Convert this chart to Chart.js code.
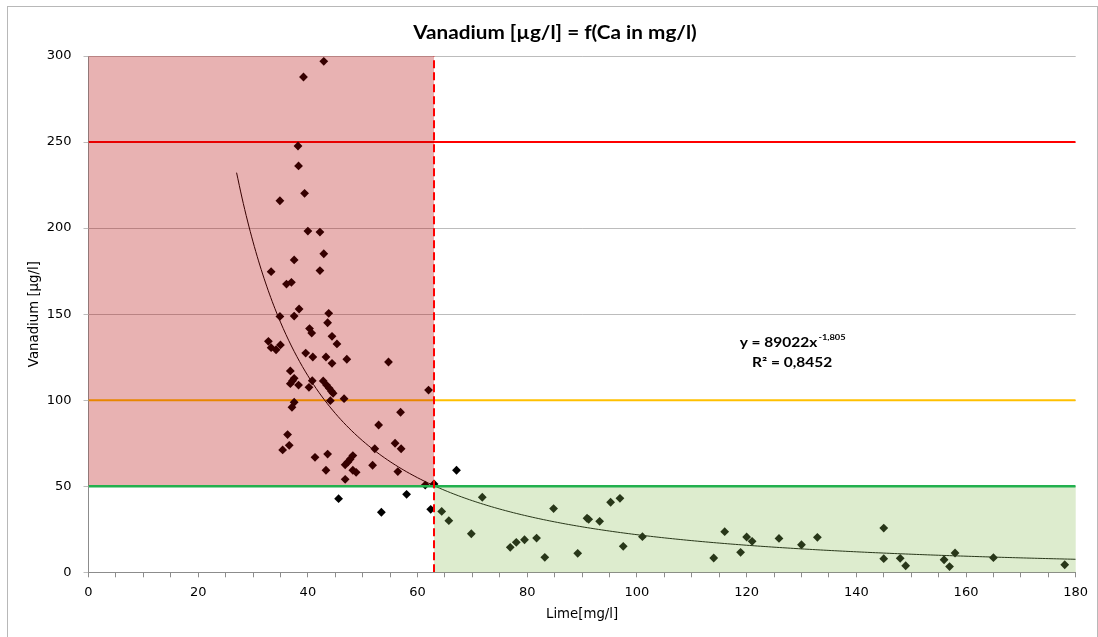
<!DOCTYPE html>
<html>
<head>
<meta charset="utf-8">
<script src="https://cdn.jsdelivr.net/npm/chart.js@4.4.1/dist/chart.umd.min.js"></script>
<style>
html,body{margin:0;padding:0;background:#fff;}
#wrap{position:relative;width:1098px;height:637px;}
canvas{display:block;}
</style>
</head>
<body>
<div id="wrap"><canvas id="c" width="1098" height="637"></canvas></div>
<script>
// ---- data ----
const chartTitle = 'Vanadium [µg/l] = f(Ca in mg/l)';
const xTitle = 'Lime[mg/l]';
const yTitle = 'Vanadium [µg/l]';

const limeX = [42.9,39.2,38.2,38.3,39.4,34.9,40.0,42.2,42.9,37.5,33.3,42.2,36.1,37.0,38.4,34.9,37.5,43.8,43.6,40.3,
  40.7,44.4,45.3,32.8,33.3,34.2,35.0,39.6,40.9,43.3,44.4,47.1,54.7,36.8,37.5,37.2,36.8,38.3,40.2,40.8,
  42.8,43.4,43.9,44.3,44.6,62.0,46.6,44.1,37.5,37.1,56.9,52.9,36.3,36.6,35.4,41.3,43.6,48.2,47.7,47.3,
  46.8,55.9,57.0,52.2,51.8,43.3,48.2,48.8,56.4,46.8,61.4,63.0,45.6,58.0,53.4,62.4,67.1,
  64.4,65.7,69.8,71.8,76.9,78.0,79.5,81.7,83.2,84.8,89.2,90.9,91.2,93.2,95.2,96.9,97.5,101.0,
  114.0,116.0,118.9,120.0,121.0,125.9,130.0,132.9,145.0,145.0,148.0,149.0,156.0,157.0,158.0,165.0,178.0];
const vanadiumY = [296.9,287.8,247.7,236.1,220.2,215.9,198.3,197.7,185.1,181.5,174.7,175.3,167.5,168.5,153.0,148.7,148.9,150.5,145.0,141.6,
  139.0,137.1,132.7,134.2,130.5,129.3,132.1,127.4,125.1,125.1,121.4,123.8,122.2,117.0,112.7,111.3,109.6,108.8,107.5,111.3,
  111.2,108.8,106.9,105.2,104.0,105.9,100.9,99.7,98.8,95.9,93.0,85.6,80.0,73.8,71.1,66.8,68.7,67.8,65.7,64.1,
  62.5,75.0,71.8,71.8,62.2,59.3,59.3,58.1,58.5,54.0,50.7,51.3,42.8,45.3,34.9,36.6,59.3,
  35.4,30.0,22.4,43.6,14.5,17.4,18.9,19.9,8.7,37.0,11.0,31.4,30.8,29.6,40.7,43.0,15.1,20.7,
  8.3,23.6,11.6,20.5,18.0,19.7,16.0,20.3,25.7,7.9,8.1,3.8,7.3,3.3,11.2,8.5,4.4];

// trendline (power fit shown on chart): y = 89022 * x^-1.805
const trendA = 89022;
const trendB = -1.805;
const trendStart = 27;
const trendEnd = 180;
const trendText1 = 'y = 89022x';
const trendExp = '-1,805';
const trendText2 = 'R² = 0,8452';

// limits
const limitHigh = 250;   // red
const limitMid = 100;    // orange
const limitLow = 50;     // green
const limeLimit = 63;    // dashed vertical
const xMin = 0, xMax = 180, yMin = 0, yMax = 300;

// ---- derived datasets ----
const scatterPts = limeX.map((x, i) => ({x: x, y: vanadiumY[i]}));
const trendPts = [];
for (let x = trendStart; x <= trendEnd; x += 1) trendPts.push({x: x, y: trendA * Math.pow(x, trendB)});

const hline = v => [{x: xMin, y: v}, {x: xMax, y: v}];

function stretchedText(ctx, text, x, y, sx, align) {
  ctx.save();
  const w = ctx.measureText(text).width * sx;
  let left = x;
  if (align === 'center') left = x - w / 2;
  ctx.translate(left, y);
  ctx.scale(sx, 1);
  ctx.textAlign = 'left';
  ctx.fillText(text, 0, 0);
  ctx.restore();
  return w;
}

const overlayPlugin = {
  id: 'overlay',
  beforeDraw(chart) {
    const ctx = chart.ctx;
    ctx.save();
    ctx.fillStyle = '#fff';
    ctx.fillRect(0, 0, chart.width, chart.height);
    ctx.strokeStyle = '#b8b8b8';
    ctx.lineWidth = 1;
    ctx.strokeRect(7.5, 6.5, 1090, 700);
    ctx.restore();
  },
  beforeDatasetsDraw(chart) {
    const ctx = chart.ctx, ys = chart.scales.y, xs = chart.scales.x;
    const left = xs.getPixelForValue(xMin), right = xs.getPixelForValue(xMax);
    ctx.save();
    ctx.strokeStyle = '#bcbcbc';
    ctx.lineWidth = 1;
    ys.ticks.forEach(t => {
      if (t.value === yMin) return;
      const py = Math.round(ys.getPixelForValue(t.value)) + 0.5;
      ctx.beginPath();
      ctx.moveTo(left, py);
      ctx.lineTo(right, py);
      ctx.stroke();
    });
    ctx.restore();
  },
  afterDatasetDraw(chart, args) {
    if (chart.data.datasets[args.index].label !== 'trend') return;
    const xs = chart.scales.x, ys = chart.scales.y, ctx = chart.ctx;
    ctx.save();
    let x0 = xs.getPixelForValue(xMin), x1 = xs.getPixelForValue(limeLimit);
    let y0 = ys.getPixelForValue(yMax), y1 = ys.getPixelForValue(limitLow);
    ctx.fillStyle = 'rgba(180,0,0,0.30)';
    ctx.fillRect(x0, y0, x1 - x0, y1 - y0);
    x0 = xs.getPixelForValue(limeLimit); x1 = xs.getPixelForValue(xMax);
    y0 = ys.getPixelForValue(limitLow); y1 = ys.getPixelForValue(yMin);
    ctx.fillStyle = 'rgba(138,190,86,0.29)';
    ctx.fillRect(x0, y0, x1 - x0, y1 - y0);
    ctx.restore();
  },
  afterDraw(chart) {
    const ctx = chart.ctx, xs = chart.scales.x, ys = chart.scales.y;
    ctx.save();
    ctx.fillStyle = '#000';
    ctx.textBaseline = 'middle';
    ctx.font = 'bold 18px Lato';
    stretchedText(ctx, chartTitle, 555, 33, 1.15, 'center');
    // equation
    const sx = 1.24;
    const cx = xs.getPixelForValue(128.3);
    const yA = ys.getPixelForValue(133.3), yB = ys.getPixelForValue(121.7);
    ctx.font = 'bold 12.5px Lato';
    const w1 = ctx.measureText(trendText1).width * sx;
    ctx.font = 'bold 7.5px Lato';
    const w2 = ctx.measureText(trendExp).width * sx;
    const start = cx - (w1 + w2) / 2;
    ctx.font = 'bold 12.5px Lato';
    stretchedText(ctx, trendText1, start, yA, sx, 'left');
    ctx.font = 'bold 7.5px Lato';
    stretchedText(ctx, trendExp, start + w1 + 1, yA - 5, sx, 'left');
    ctx.font = 'bold 12.5px Lato';
    stretchedText(ctx, trendText2, cx, yB, sx, 'center');
    ctx.restore();
  }
};

new Chart(document.getElementById('c'), {
  type: 'scatter',
  data: {
    datasets: [
      {label: 'red', type: 'line', data: hline(limitHigh), borderColor: '#ff0000', borderWidth: 2, pointRadius: 0, order: 6},
      {label: 'orange', type: 'line', data: hline(limitMid), borderColor: '#ffc000', borderWidth: 2, pointRadius: 0, order: 5},
      {label: 'Vanadium', data: scatterPts, pointStyle: 'rectRot', pointRadius: 4.4, backgroundColor: '#000', borderColor: '#000', borderWidth: 0, order: 4},
      {label: 'trend', type: 'line', data: trendPts, borderColor: '#000', borderWidth: 1, pointRadius: 0, tension: 0.3, order: 3},
      {label: 'green', type: 'line', data: hline(limitLow), borderColor: '#22b04e', borderWidth: 2.5, pointRadius: 0, order: 2},
      {label: 'limit', type: 'line', data: [{x: limeLimit, y: yMin}, {x: limeLimit, y: yMax}], borderColor: '#ff0000', borderWidth: 2, borderDash: [8, 4], pointRadius: 0, order: 1}
    ]
  },
  options: {
    responsive: false,
    animation: false,
    devicePixelRatio: 1,
    layout: {padding: {left: 0, right: 22.3, top: 56, bottom: 0}},
    plugins: {legend: {display: false}, tooltip: {enabled: false}, title: {display: false}},
    scales: {
      x: {
        type: 'linear', min: xMin, max: xMax,
        ticks: {stepSize: 5, padding: 8, color: '#000', font: {family: 'DejaVu Sans', size: 13},
          callback: v => (v % 20 === 0 ? String(v) : ''), autoSkip: false, maxRotation: 0},
        grid: {drawOnChartArea: false, drawTicks: true, tickLength: 5, color: '#8c8c8c'},
        border: {display: true, color: '#8c8c8c'},
        title: {display: true, text: xTitle, color: '#000', font: {family: 'DejaVu Sans', size: 13.3}, padding: {top: 0, bottom: 14.5}},
        afterFit: s => { s.height = 64.7; }
      },
      y: {
        type: 'linear', min: yMin, max: yMax,
        ticks: {stepSize: 50, padding: 12, color: '#000', font: {family: 'DejaVu Sans', size: 13}},
        grid: {drawOnChartArea: false, drawTicks: true, tickLength: 5, color: '#bcbcbc'},
        border: {display: true, color: '#8c8c8c'},
        title: {display: true, text: yTitle, color: '#000', font: {family: 'DejaVu Sans', size: 13.3}, padding: {top: 27, bottom: 0}},
        afterFit: s => { s.width = 88.5; }
      }
    }
  },
  plugins: [overlayPlugin]
});
</script>
</body>
</html>
